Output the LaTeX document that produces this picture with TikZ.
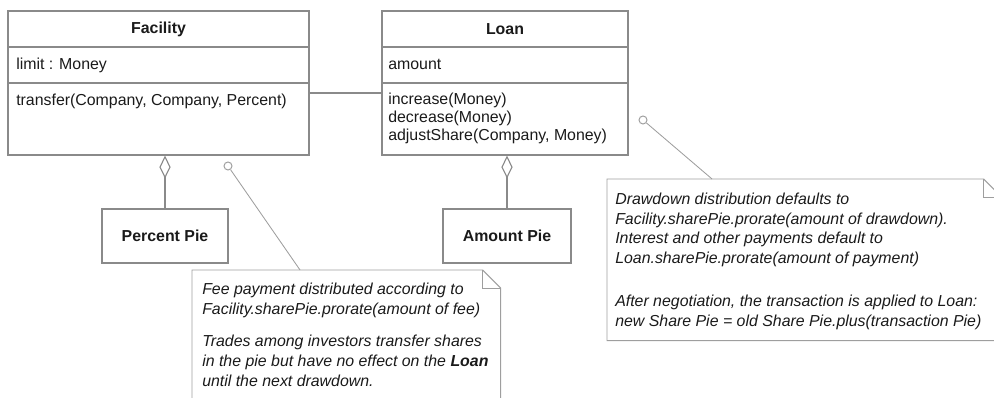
\documentclass[tikz,border=0pt]{standalone}
\usepackage{fontspec}
\setmainfont{Liberation Sans}
\usepackage{xcolor}
\usepackage{tikz}
\usetikzlibrary{arrows.meta,positioning,calc}
\definecolor{UmlLine}{HTML}{8A8A8A}
\definecolor{UmlNote}{HTML}{9E9E9E}
\definecolor{UmlInk}{HTML}{1A1A1A}

\begin{document}
\begin{tikzpicture}[x=0.025cm, y=-0.025cm,
  font=\fontsize{11.3}{13}\selectfont, text=UmlInk,
  cls/.style={draw=UmlLine, line width=0.8pt, inner sep=0pt},
  pie/.style={cls, minimum height=1.35cm, font=\fontsize{11.3}{13}\selectfont\bfseries},
  head/.style={inner sep=0pt, font=\fontsize{11.3}{13}\selectfont\bfseries},
  lbl/.style={anchor=base west, inner sep=0pt},
  sep/.style={UmlLine, line width=0.8pt},
  agg/.style={UmlLine, line width=0.8pt, {Diamond[open, length=0.575cm, width=0.28cm]}-},
  notebox/.style={inner sep=0pt, anchor=north west},
  noteline/.style={draw=UmlNote, line width=0.7pt},
  notetext/.style={anchor=north west, inner sep=0pt, align=left},
  pin/.style={circle, draw=UmlNote, line width=0.7pt, inner sep=0pt, minimum size=0.2cm},
  lead/.style={UmlNote, line width=0.6pt}]
\useasboundingbox (0,0) rectangle (994,398);
\clip (0,0) rectangle (994,398);
%% the two classes, three compartments each
\node[cls, minimum width=7.525cm, minimum height=3.6cm] (fac) at (158.5,83) {};
\draw[sep] (fac.west |- 0,47) -- (fac.east |- 0,47);
\draw[sep] (fac.west |- 0,83) -- (fac.east |- 0,83);
\node[head] (facname) at (158.5,29) {Facility};
\node[lbl] (faclimit) at (16,70) {limit : Money};
\node[lbl] (facop) at (16,106) {transfer(Company, Company, Percent)};

\node[cls, minimum width=6.15cm, minimum height=3.6cm] (loan) at (505,83) {};
\draw[sep] (loan.west |- 0,47) -- (loan.east |- 0,47);
\draw[sep] (loan.west |- 0,83) -- (loan.east |- 0,83);
\node[head] (loanname) at (505,29) {Loan};
\node[lbl] (loanamt) at (388,70) {amount};
\node[lbl] (loanop1) at (388,105) {increase(Money)};
\node[lbl] (loanop2) at (388,123) {decrease(Money)};
\node[lbl] (loanop3) at (388,141) {adjustShare(Company, Money)};

\draw[sep] ([yshift=-0.25cm]fac.east) -- ([yshift=-0.25cm]loan.west);

%% pies, held by aggregation
\node[pie, minimum width=3.15cm] (pct) at (165,236) {Percent Pie};
\node[pie, minimum width=3.2cm] (amt) at (507,236) {Amount Pie};
\draw[agg] (pct.north |- fac.south) -- (pct.north);
\draw[agg] (amt.north |- loan.south) -- (amt.north);

%% notes with a folded corner
\node[notebox, minimum width=7.7cm, minimum height=3.5cm] (feenote) at (192,270) {};
\draw[noteline] (feenote.south west) -- (feenote.north west) -- ([xshift=-0.45cm]feenote.north east)
  -- ([yshift=-0.45cm]feenote.north east) -- (feenote.south east) -- cycle;
\draw[noteline] ([xshift=-0.45cm]feenote.north east) |- ([yshift=-0.45cm]feenote.north east);
\node[notetext, font=\fontsize{11.3}{14.2}\selectfont\itshape] (feetext) at (202,283)
  {Fee payment distributed according to\\ Facility.sharePie.prorate(amount of fee)\\[8.5pt]
   Trades among investors transfer shares\\ in the pie but have no effect on the \textbf{Loan}\\
   until the next drawdown.};

\node[notebox, minimum width=9.85cm, minimum height=4.025cm] (drawnote) at (607,179) {};
\draw[noteline] (drawnote.south west) -- (drawnote.north west) -- ([xshift=-0.45cm]drawnote.north east)
  -- ([yshift=-0.45cm]drawnote.north east) -- (drawnote.south east) -- cycle;
\draw[noteline] ([xshift=-0.45cm]drawnote.north east) |- ([yshift=-0.45cm]drawnote.north east);
\node[notetext, font=\fontsize{11.3}{13.9}\selectfont\itshape] (drawtext) at (615,193)
  {Drawdown distribution defaults to\\ Facility.sharePie.prorate(amount of drawdown).\\
   Interest and other payments default to\\ Loan.sharePie.prorate(amount of payment)\\[16.7pt]
   After negotiation, the transaction is applied to Loan:\\
   new Share Pie = old Share Pie.plus(transaction Pie)};

%% note anchors
\node[pin] (facpin) at (228,166) {};
\draw[lead] (facpin) -- ([xshift=2.7cm]feenote.north west);
\node[pin] (loanpin) at (643,120) {};
\draw[lead] (loanpin) -- ([xshift=2.625cm]drawnote.north west);
\end{tikzpicture}
\end{document}
